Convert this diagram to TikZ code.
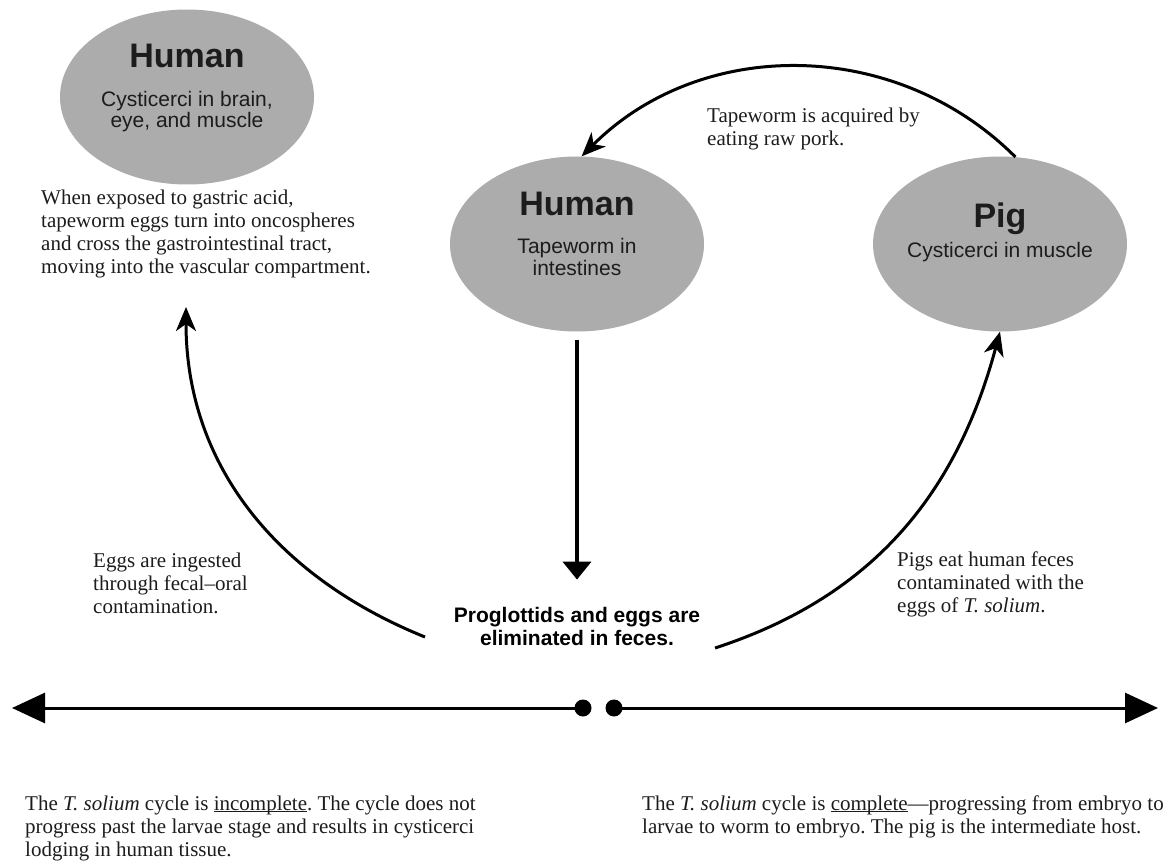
\documentclass[tikz,border=0pt]{standalone}
\usepackage{fontspec}
\setmainfont{Liberation Serif}
\setsansfont{Liberation Sans}
\usetikzlibrary{arrows.meta,shapes.geometric}
\definecolor{hostGray}{RGB}{172,172,172}
\definecolor{inkBlack}{RGB}{28,28,28}
\newcommand{\undr}[1]{\underline{\smash{#1}}}
\frenchspacing
\tikzset{
  host/.style={ellipse, fill=hostGray, inner sep=0pt, minimum width=254pt, minimum height=175pt},
  hosttitle/.style={anchor=base, inner sep=0pt, text=inkBlack, font=\sffamily\bfseries\fontsize{34}{36}\selectfont},
  hostnote/.style={anchor=base, inner sep=0pt, align=center, text=inkBlack, font=\sffamily\fontsize{21}{21}\selectfont},
  sidenote/.style={anchor=base west, inner sep=0pt, align=left, text=inkBlack, font=\fontsize{21}{23}\selectfont},
  stagenote/.style={anchor=base, inner sep=0pt, align=center, text=black, font=\sffamily\bfseries\fontsize{21}{23}\selectfont},
  cycledot/.style={circle, fill=black, inner sep=0pt, minimum size=17pt},
  flowarrow/.style={-{Stealth[length=24pt,width=20pt,inset=7pt]}, line width=3pt},
  droparrow/.style={-{Triangle[length=18pt,width=28pt]}, line width=4pt},
  spanarrow/.style={-{Triangle[length=33pt,width=30pt]}, line width=3pt}
}
\begin{document}
\begin{tikzpicture}[x=1pt, y=1pt]
\useasboundingbox (0,0) rectangle (1171,-864);
% hosts (multi-line texts sit on the baseline of their last line)
\node[host] (humanA) at (187,-97) {};
\node[host] (humanB) at (577,-244) {};
\node[host] (pig) at (1000,-244) {};
\node[hosttitle] (humanAtitle) at (187,-68) {Human};
\node[hostnote] (humanAnote) at (187,-128) {Cysticerci in brain,\\eye, and muscle};
\node[hosttitle] (humanBtitle) at (577,-215) {Human};
\node[hostnote] (humanBnote) at (577,-275) {Tapeworm in\\intestines};
\node[hosttitle] (pigtitle) at (1000,-228) {Pig};
\node[hostnote] (pignote) at (1000,-257) {Cysticerci in muscle};
% notes
\node[sidenote] (gastric) at (41,-273) {When exposed to gastric acid,\\tapeworm eggs turn into oncospheres\\and cross the gastrointestinal tract,\\moving into the vascular compartment.};
\node[sidenote] (pork) at (707,-146) {Tapeworm is acquired by\\eating raw pork.};
\node[sidenote] (ingest) at (93,-613) {Eggs are ingested\\through fecal--oral\\contamination.};
\node[sidenote] (pigseat) at (897,-612) {Pigs eat human feces\\contaminated with the\\eggs of \textit{T.~solium}.};
\node[stagenote] (feces) at (577,-645) {Proglottids and eggs are\\eliminated in feces.};
% cycle arrows
\coordinate (ingestTail) at (425,-637);
\coordinate (ingestHead) at (186,-307);
\coordinate (shedTail) at (715,-648);
\draw[flowarrow] (pig.80) to[out=135,in=45] (humanB.87);
\draw[droparrow] ([yshift=-8]humanB.south) -- ([yshift=27]feces.north);
\draw[flowarrow] (ingestTail) to[out=158,in=270] (ingestHead);
\draw[flowarrow] (shedTail) to[out=18,in=255] (pig.south);
% bottom scale
\node[cycledot] (ldot) at (583,-708) {};
\node[cycledot] (rdot) at (614,-708) {};
\coordinate (leftEnd) at (12,-708);
\coordinate (rightEnd) at (1158,-708);
\draw[spanarrow] (ldot.center) -- (leftEnd);
\draw[spanarrow] (rdot.center) -- (rightEnd);
\node[sidenote] (incomplete) at (25,-856) {The \textit{T.~solium} cycle is \undr{incomplete}. The cycle does not\\progress past the larvae stage and results in cysticerci\\lodging in human tissue.};
\node[sidenote] (complete) at (642,-833) {The \textit{T.~solium} cycle is \undr{complete}---progressing from embryo to\\larvae to worm to embryo. The pig is the intermediate host.};
\end{tikzpicture}
\end{document}
